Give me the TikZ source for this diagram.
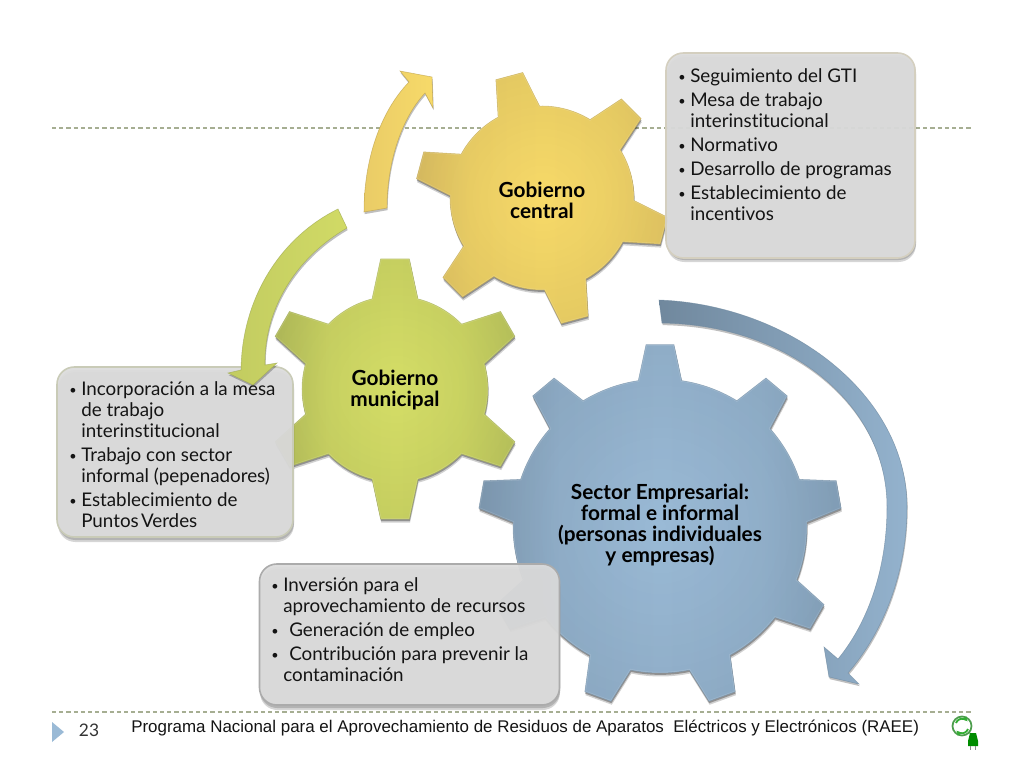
\documentclass[tikz,border=0pt]{standalone}
\usepackage{fontspec}
\usetikzlibrary{arrows.meta,fadings}
\setmainfont{Lato}[Ligatures=NoCommon]
\newfontfamily\arialf{Liberation Sans}
\definecolor{dashc}{HTML}{A6AE92}
\definecolor{yeL}{HTML}{E4C666}\definecolor{yeM}{HTML}{F7DA69}\definecolor{yeR}{HTML}{EDCF68}\definecolor{yeE}{HTML}{B89C45}
\definecolor{grL}{HTML}{BAC45E}\definecolor{grM}{HTML}{D5DE67}\definecolor{grR}{HTML}{C2CC60}\definecolor{grE}{HTML}{9AA54E}
\definecolor{blL}{HTML}{84A0B9}\definecolor{blM}{HTML}{9ABAD6}\definecolor{blR}{HTML}{8AA8C2}\definecolor{blE}{HTML}{6C879E}
\definecolor{boxg}{HTML}{DCDCDC}
\pgfdeclarehorizontalshading{gearY}{100bp}{color(0bp)=(yeL);color(25bp)=(yeL);color(36bp)=(yeM!75!yeL);color(50bp)=(yeM);color(64bp)=(yeM!75!yeR);color(75bp)=(yeR);color(100bp)=(yeR)}
\pgfdeclarehorizontalshading{gearG}{100bp}{color(0bp)=(grL);color(25bp)=(grL);color(36bp)=(grM!75!grL);color(50bp)=(grM);color(64bp)=(grM!75!grR);color(75bp)=(grR);color(100bp)=(grR)}
\pgfdeclarehorizontalshading{gearB}{100bp}{color(0bp)=(blL);color(25bp)=(blL);color(36bp)=(blM!75!blL);color(50bp)=(blM);color(64bp)=(blM!75!blR);color(75bp)=(blR);color(100bp)=(blR)}
\tikzfading[name=rimfade,inner color=transparent!100,outer color=transparent!93]
\tikzset{
  boxnode/.style={draw=#1,line width=1.2pt,rounded corners=13,fill=boxg,fill opacity=.94,inner sep=0pt,text opacity=1},
  boxtext/.style={anchor=north west,inner sep=0pt,align=left,text=black!92,font=\fontsize{14.1}{15.75}\selectfont},
  gearlabel/.style={align=center,inner sep=0pt,font=\bfseries\fontsize{15.6}{15.75}\selectfont,text=black},
  dashrule/.style={draw=dashc,line width=.8pt,dash pattern=on 3.2pt off 2.2pt},
  softshadow/.style={black,opacity=.16,rounded corners=13},
}
\newcommand\itm{\makebox[9pt][l]{\raisebox{.5pt}{\fontsize{9.5}{10}\selectfont•}}}
\newcommand\cont{\hspace*{9pt}}
\newcommand\gearshape[6]{(#5-#3:#1) \foreach \a/\n in {#6} { -- (\a-#3:#1) -- (\a-#4:#2) -- (\a+#4:#2) -- (\a+#3:#1) arc[start angle=\a+#3,end angle=\n-#3,radius=#1] } -- cycle}
\newcommand\gearfig[5]{%
 \begin{scope}[shift={#1}]
  \fill[black,opacity=.18,xshift=.5pt,yshift=2.6pt] #2;
  \fill[black,opacity=.3,xshift=.3pt,yshift=1.4pt] #2;
  \path[shading=#3] #2;
  \begin{scope}
   \clip #2;
   \fill[black,path fading=rimfade,fit fading=true] (0,0) circle (#5);
   \draw[white,line width=1.6pt,opacity=.14] #2;
  \end{scope}
  \draw[#4,line width=.4pt,opacity=.55] #2;
 \end{scope}}
\newcommand\arrowfig[4]{%
  \fill[black,opacity=.25,xshift=.5pt,yshift=1.6pt] #1;
  \path[left color=#2,right color=#3] #1;
  \draw[#4,line width=.4pt,opacity=.65] #1;}
\begin{document}
\begin{tikzpicture}[x=.75pt,y=.75pt,yscale=-1]
\useasboundingbox (0,0) rectangle (1024,768);
\fill[white] (0,0) rectangle (1024,768);
\coordinate (r1a) at (52,128); \coordinate (r1b) at (972,128);
\coordinate (r2a) at (52,712); \coordinate (r2b) at (972,712);
\draw[dashrule] (r1a) -- (r1b);
\draw[dashrule] (r2a) -- (r2b);
% gears
\gearfig{(542,198)}{\gearshape{92}{127}{13.5}{6.3}{-105}{-105/-45,-45/15,15/75,75/135,135/195,195/255}}{gearY}{yeE}{130}
\gearfig{(660,526)}{\gearshape{147}{182}{8.5}{4.4}{-90}{-90/-50,-50/-10,-10/30,30/70,70/110,110/150,150/190,190/230,230/270}}{gearB}{blE}{185}
\gearfig{(395,389)}{\gearshape{93}{131}{14.3}{6.3}{-90}{-90/-30,-30/30,30/90,90/150,150/210,210/270}}{gearG}{grE}{134}
\node[gearlabel] (gc) at (542,200.5) {Gobierno\\central};
\node[gearlabel] (gm) at (395,390) {Gobierno\\municipal};
\node[gearlabel] (gs) at (660,525.5) {Sector Empresarial:\\formal e informal\\(personas individuales\\y empresas)};
% boxes
\fill[softshadow] (667,57) rectangle (916,262);
\fill[softshadow] (667,55) rectangle (916,260);
\node[boxnode=yeE!60!black!30,minimum width=249*.75pt,minimum height=205*.75pt] (b1) at (790.5,155.5) {};
\fill[softshadow] (58,372) rectangle (294,542);
\fill[softshadow] (58,370) rectangle (294,540);
\node[boxnode=grE!65!black!35,minimum width=236*.75pt,minimum height=170*.75pt] (b2) at (175,452) {};
\fill[softshadow] (260,569) rectangle (560,710);
\fill[softshadow] (260,567) rectangle (560,708);
\node[boxnode=black!33,minimum width=300*.75pt,minimum height=141*.75pt] (b3) at (409.5,634.5) {};
\node[boxtext] (t1) at (678,68.5) {\itm Seguimiento del GTI\\[2.25pt]\itm Mesa de trabajo\\\cont interinstitucional\\[2.25pt]\itm Normativo\\[2.25pt]\itm Desarrollo de programas\\[2.25pt]\itm Establecimiento de\\\cont incentivos};
\node[boxtext] (t2) at (69,381.5) {\itm Incorporación a la mesa\\\cont de trabajo\\\cont interinstitucional\\[2.25pt]\itm Trabajo con sector\\\cont informal (pepenadores)\\[2.25pt]\itm Establecimiento de\\\cont Puntos \hspace{-.14em}Verdes};
\node[boxtext] (t3) at (271,577) {\itm Inversión para el\\\cont aprovechamiento de recursos\\[2.25pt]\itm\hspace{4.5pt}Generación de empleo\\[2.25pt]\itm\hspace{4.5pt}Contribución para prevenir la\\\cont contaminación};
% arrows
\arrowfig{(364,212) .. controls (364,160) and (380,112) .. (409,82) -- (400,71) -- (432,77) -- (433,108) -- (425,93) .. controls (400,120) and (387,165) .. (387,208) -- cycle}{yeL!70!yeM}{yeM}{yeE}
\arrowfig{(338,209) .. controls (283,236) and (242,295) .. (241,370) -- (228,373) -- (253,385) -- (277,363) -- (265,365) .. controls (264,310) and (295,258) .. (347,228) -- cycle}{grL!70!grM}{grM!85!grL}{grE}
\arrowfig{(659,300) .. controls (790,305) and (907,395) .. (907,507) .. controls (907,570) and (885,630) .. (848,673) -- (859,684) -- (829,677) -- (824,647) -- (838,659) .. controls (870,620) and (887,565) .. (887,507) .. controls (887,405) and (790,325) .. (662,323) -- cycle}{blL!85!black}{blM!70!blL}{blE}
% footer
\fill[blM] (52,722) -- (64,732) -- (52,742) -- cycle;
\node[inner sep=0pt,text=black!80,font=\fontsize{13}{15}\selectfont] (pn) at (89,730) {23};
\node[anchor=west,inner sep=0pt,text=black!92,font=\arialf\fontsize{12.7}{14}\selectfont] (ft) at (131,728.5) {Programa Nacional para el Aprovechamiento de Residuos de Aparatos\ \ Eléctricos y Electrónicos (RAEE)};
% logo
\draw[green!45!black!70!white,line width=1.3pt] (962,726) circle (9.5);
\draw[green!60!black!80!white,line width=1.4pt,-{Latex[length=3pt,width=4pt]}] (956,723) arc[start angle=200,end angle=320,radius=6.5];
\draw[green!60!black!80!white,line width=1.4pt,-{Latex[length=3pt,width=4pt]}] (968,729) arc[start angle=20,end angle=140,radius=6.5];
\draw[green!40!black,line width=.8pt] (970,733) -- (973,737);
\fill[green!55!black] (970,733) -- (976,733) -- (978,741) -- (978,746) -- (968,746) -- (968,741) -- cycle;
\draw[black!45,line width=.9pt] (970.5,746) -- (970.5,750) (975.5,746) -- (975.5,750);
\end{tikzpicture}
\end{document}
